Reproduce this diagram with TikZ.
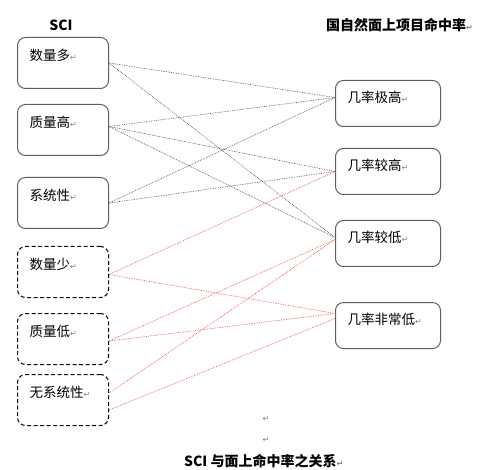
\documentclass[tikz,border=0pt]{standalone}
\usepackage{fontspec}
\setmainfont{Noto Sans CJK SC}
\newfontfamily\symbfont{DejaVu Sans}
\usetikzlibrary{positioning}
\definecolor{boxgray}{RGB}{95,95,95}
\definecolor{linkgray}{RGB}{90,90,90}
\definecolor{linkred}{RGB}{245,80,80}
\newcommand{\pmark}{\textcolor{gray}{\symbfont\fontsize{8}{8}\selectfont ↵}}

\begin{document}
\begin{tikzpicture}[x=1pt, y=-1pt,
  every node/.style={font=\fontsize{13.5}{14}\selectfont},
  cell/.style={rectangle, rounded corners=8pt, line width=1pt, anchor=north west, align=left,
    inner xsep=12pt, inner ysep=4pt, text height=19pt, text depth=24pt},
  sciyes/.style={cell, draw=boxgray, text width=67pt},
  scino/.style={cell, draw=black, dash pattern=on 4pt off 2.5pt, text width=67pt},
  rate/.style={cell, draw=boxgray, text width=81pt, text height=18pt, text depth=20pt},
  heading/.style={font=\bfseries\fontsize{14}{14}\selectfont, inner sep=0pt},
  link/.style={draw=linkgray, densely dotted, line width=0.7pt},
  badlink/.style={draw=linkred, densely dotted, line width=0.7pt},
]
  \useasboundingbox (0,0) rectangle (495,470);

  \node[heading] (scititle) at (61,25) {SCI};
  \node[heading, anchor=west] (ratetitle) at (326,25) {国自然面上项目命中率\pmark};

  \node[sciyes] (q1) at (17,37)  {数量多\pmark};
  \node[sciyes] (q2) at (17,104) {质量高\pmark};
  \node[sciyes] (q3) at (17,177) {系统性\pmark};
  \node[scino]  (q4) at (17,246) {数量少\pmark};
  \node[scino]  (q5) at (17,313) {质量低\pmark};
  \node[scino]  (q6) at (17,374) {无系统性\pmark};

  \node[rate] (r1) at (335,80)  {几率极高\pmark};
  \node[rate] (r2) at (335,148) {几率较高\pmark};
  \node[rate] (r3) at (335,220) {几率较低\pmark};
  \node[rate] (r4) at (335,302) {几率非常低\pmark};

  \draw[link] (q1.east) -- ([yshift=6pt]r1.west);
  \draw[link] (q1.east) -- ([yshift=6pt]r3.west);
  \draw[link] ([yshift=3.5pt]q2.east) -- ([yshift=6pt]r1.west);
  \draw[link] ([yshift=3.5pt]q2.east) -- (r2.west);
  \draw[link] ([yshift=3.5pt]q2.east) -- ([yshift=6pt]r3.west);
  \draw[link] (q3.east) -- ([yshift=6pt]r1.west);
  \draw[link] (q3.east) -- (r2.west);

  \draw[badlink] ([yshift=-2.5pt]q4.east) -- (r2.west);
  \draw[badlink] ([yshift=-2.5pt]q4.east) -- ([yshift=12pt]r4.west);
  \draw[badlink] ([yshift=-2pt]q5.east) -- ([yshift=4pt]r3.west);
  \draw[badlink] ([yshift=-2pt]q5.east) -- ([yshift=12pt]r4.west);
  \draw[badlink] ([yshift=7pt]q6.east) -- ([yshift=4pt]r3.west);
  \draw[badlink] ([yshift=-10pt]q6.east) -- ([yshift=7pt]r4.west);

  \node[inner sep=0pt] (blank1) at (266,419) {\pmark};
  \node[inner sep=0pt] (blank2) at (266,440) {\pmark};
  \node[heading, anchor=west] (caption) at (184,461) {SCI 与面上命中率之关系\pmark};
\end{tikzpicture}
\end{document}
